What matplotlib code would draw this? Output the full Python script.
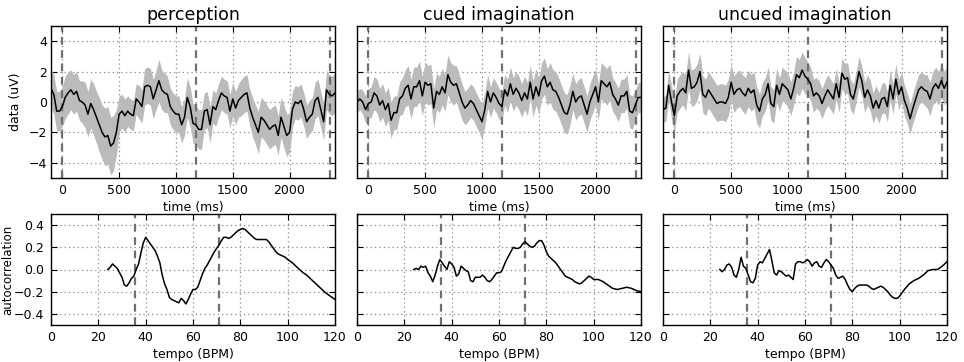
import numpy as np
import matplotlib
matplotlib.use("Agg")
import matplotlib.pyplot as plt

# ---------------- data ----------------
conditions = ["perception", "cued imagination", "uncued imagination"]
times = np.arange(-100, 2401, 25)  # ms

perception_mean = [
    0.9, 0.5, -0.6, -0.6, -0.3, 0.3, 0.6, 0.8, 0.5, 0.7,
    0.1, 0.0, -0.2, -0.8, -0.1, -0.5, -1.0, -1.5, -2.0, -2.3,
    -2.2, -2.9, -2.7, -2.0, -0.8, -0.6, -0.9, -0.6, -0.8, -0.9,
    0.2, 0.0, -0.3, 1.0, 1.1, 1.0, 0.2, 0.8, 1.4, 0.8,
    0.6, 0.5, -0.3, -0.6, -0.8, -0.8, -1.5, -1.0, 0.3, -0.3,
    -1.4, -1.5, -1.8, -1.8, -0.6, -0.5, -1.5, -0.3, -0.5, 0.1,
    0.6, 0.4, 0.3, -0.6, 0.2, -0.4, 0.1, 0.3, 0.5, 0.6,
    -0.4, -1.0, -1.5, -2.0, -1.0, -1.2, -1.5, -1.8, -1.6, -1.5,
    -2.2, -1.0, -1.6, -2.2, -2.0, -0.5, 0.0, -0.1, 0.1, -0.5,
    -1.3, -1.0, -0.8, 0.1, 0.3, -0.5, -1.3, 0.8, 0.5, 0.4,
    0.6]
perception_err = [
    1.3, 1.3, 1.3, 1.3, 1.3, 1.4, 1.4, 1.3, 1.3, 1.3,
    1.3, 1.4, 1.5, 1.5, 1.6, 1.7, 1.7, 1.8, 1.8, 1.9,
    1.9, 1.9, 1.8, 1.5, 1.2, 1.1, 1.1, 1.0, 1.0, 1.0,
    1.0, 1.1, 1.1, 1.2, 1.2, 1.2, 1.3, 1.3, 1.4, 1.3,
    1.3, 1.2, 1.2, 1.2, 1.2, 1.2, 1.2, 1.2, 1.3, 1.3,
    1.3, 1.3, 1.3, 1.3, 1.2, 1.2, 1.2, 1.1, 1.1, 1.1,
    1.1, 1.1, 1.1, 1.1, 1.1, 1.1, 1.1, 1.2, 1.2, 1.2,
    1.2, 1.3, 1.3, 1.4, 1.3, 1.3, 1.3, 1.3, 1.3, 1.3,
    1.3, 1.3, 1.4, 1.4, 1.3, 1.2, 1.1, 1.1, 1.1, 1.1,
    1.1, 1.1, 1.1, 1.2, 1.2, 1.2, 1.2, 1.3, 1.3, 1.3,
    1.3]

cued_mean = [
    0.0, 0.2, 0.0, -0.5, -0.1, 0.0, 0.6, 0.4, -0.2, 0.1,
    -0.5, -0.1, -1.2, -0.7, -0.7, 0.2, 0.4, 0.9, 1.1, 0.2,
    1.0, 1.0, 1.4, 0.4, 1.3, 1.1, 1.2, -0.4, 0.7, 0.5,
    1.0, 0.6, 1.8, 1.3, 1.1, 1.2, 0.6, 0.0, -0.4, -0.2,
    0.1, -0.1, -0.5, -0.9, -1.3, -0.5, 0.7, 0.0, 0.6, 0.3,
    -0.1, -0.3, 0.8, 0.4, 1.2, 0.5, 0.9, 0.6, 0.1, 0.6,
    0.2, 1.3, 0.2, 1.0, 0.4, 1.4, 1.7, 1.0, 1.3, 0.8,
    0.7, 0.3, -0.2, -0.7, -0.8, -0.2, 0.7, 0.0, 0.3, 0.4,
    -0.2, -0.8, 0.0, 0.5, 1.0, 0.0, 1.4, 1.2, 1.0, 1.3,
    0.5, 0.2, -0.2, 0.4, 0.4, 0.7, -0.6, -0.7, -0.2, 0.3,
    0.3]
cued_err = [
    0.7, 0.7, 0.8, 0.9, 1.0, 1.0, 1.1, 1.1, 1.1, 1.1,
    1.1, 1.1, 1.2, 1.1, 1.1, 1.1, 1.2, 1.2, 1.3, 1.3,
    1.3, 1.3, 1.3, 1.3, 1.3, 1.3, 1.3, 1.3, 1.2, 1.2,
    1.2, 1.2, 1.3, 1.3, 1.3, 1.2, 1.2, 1.2, 1.1, 1.1,
    1.1, 1.1, 1.1, 1.1, 1.2, 1.1, 1.1, 1.0, 1.0, 1.0,
    1.0, 1.0, 1.0, 1.1, 1.1, 1.1, 1.1, 1.1, 1.1, 1.1,
    1.1, 1.1, 1.2, 1.2, 1.2, 1.2, 1.2, 1.2, 1.3, 1.3,
    1.3, 1.3, 1.3, 1.3, 1.3, 1.3, 1.2, 1.2, 1.2, 1.2,
    1.2, 1.2, 1.2, 1.2, 1.2, 1.2, 1.2, 1.2, 1.2, 1.2,
    1.1, 1.1, 1.1, 1.1, 1.1, 1.1, 1.1, 1.1, 1.0, 1.0,
    1.0]

uncued_mean = [
    -0.5, -0.4, 1.1, 0.0, -0.9, 0.4, 0.7, 0.9, 0.6, 2.1,
    0.9, 1.0, 1.3, 2.0, 0.5, 0.3, 0.8, 0.5, 0.2, -0.1,
    0.0, 0.0, -0.1, 0.3, 1.3, 0.5, 0.8, 0.9, 0.6, 0.4,
    0.9, 0.6, 0.8, -0.2, -0.6, 0.2, 0.5, 1.2, -0.1, -0.3,
    1.1, 0.5, 1.2, 1.0, 0.8, 0.2, 0.9, 1.8, 1.6, 2.1,
    1.7, 1.5, 1.2, 0.4, 0.6, 0.4, -0.1, 0.4, 0.8, 0.5,
    0.2, 1.2, 0.3, 1.9, 1.5, 1.6, 0.5, 0.2, 1.0, 2.0,
    1.4, 0.3, 0.8, 0.4, -0.4, 0.1, -0.4, 0.2, 0.3, -0.3,
    1.1, 0.2, 1.5, 0.5, 1.0, 0.1, -0.4, -1.1, -0.4, 0.2,
    0.8, 1.0, 0.8, 0.7, 0.2, 0.9, 1.2, 0.9, 1.4, 0.9,
    1.3]
uncued_err = [
    0.8, 0.9, 1.0, 1.1, 1.1, 1.1, 1.1, 1.1, 1.2, 1.2,
    1.2, 1.2, 1.2, 1.2, 1.2, 1.2, 1.2, 1.2, 1.2, 1.2,
    1.2, 1.2, 1.2, 1.2, 1.2, 1.2, 1.2, 1.2, 1.2, 1.2,
    1.2, 1.2, 1.2, 1.2, 1.1, 1.1, 1.1, 1.1, 1.1, 1.1,
    1.1, 1.1, 1.1, 1.1, 1.1, 1.1, 1.1, 1.2, 1.2, 1.2,
    1.2, 1.1, 1.1, 1.1, 1.0, 1.0, 1.0, 1.0, 1.0, 1.0,
    1.0, 1.0, 1.0, 1.0, 1.0, 1.0, 1.0, 1.0, 1.0, 1.0,
    1.0, 1.0, 1.0, 1.0, 1.0, 1.0, 1.0, 1.0, 1.0, 1.0,
    1.0, 1.0, 1.0, 1.0, 1.0, 1.0, 1.0, 1.0, 1.0, 1.0,
    1.0, 1.0, 1.0, 1.1, 1.1, 1.1, 1.1, 1.1, 1.1, 1.1,
    1.1]

tempo = list(range(24, 101)) + list(range(102, 121, 2))  # BPM

perception_acf = [
    0.0, 0.02, 0.05, 0.03, 0.01, -0.03, -0.07, -0.14, -0.15, -0.12,
    -0.08, -0.06, 0.0, 0.05, 0.15, 0.24, 0.29, 0.26, 0.23, 0.2,
    0.17, 0.12, 0.06, -0.05, -0.13, -0.18, -0.25, -0.27, -0.28, -0.29,
    -0.3, -0.26, -0.28, -0.31, -0.27, -0.22, -0.18, -0.18, -0.16, -0.1,
    -0.04, 0.01, 0.04, 0.08, 0.12, 0.16, 0.19, 0.22, 0.26, 0.29,
    0.29, 0.28, 0.29, 0.31, 0.33, 0.35, 0.36, 0.37, 0.36, 0.34,
    0.32, 0.3, 0.28, 0.27, 0.27, 0.27, 0.27, 0.27, 0.25, 0.22,
    0.19, 0.16, 0.14, 0.13, 0.12, 0.11, 0.09,
    0.06, 0.02, -0.02, -0.05, -0.09, -0.13, -0.17, -0.21, -0.24, -0.27]
cued_acf = [
    0.0, 0.01, 0.0, 0.03, 0.02, 0.03, -0.03, -0.06, -0.11, -0.05,
    0.03, 0.09, 0.06, 0.03, 0.0, 0.07, 0.05, 0.02, -0.06, -0.04,
    0.03, 0.01, -0.01, -0.02, -0.1, -0.11, -0.07, -0.07, -0.07, -0.05,
    -0.07, -0.1, -0.11, -0.09, -0.06, -0.03, -0.03, -0.02, 0.03, 0.08,
    0.12, 0.16, 0.2, 0.19, 0.19, 0.2, 0.23, 0.25, 0.23, 0.21,
    0.2, 0.21, 0.24, 0.26, 0.26, 0.22, 0.16, 0.12, 0.1, 0.08,
    0.06, 0.03, 0.0, -0.03, -0.06, -0.07, -0.08, -0.09, -0.11, -0.12,
    -0.13, -0.12, -0.1, -0.08, -0.06, -0.07, -0.09,
    -0.09, -0.11, -0.14, -0.17, -0.18, -0.17, -0.16, -0.17, -0.19, -0.2]
uncued_acf = [
    0.0, -0.02, 0.0, 0.04, 0.05, 0.02, -0.05, -0.07, 0.0, 0.11,
    0.03, 0.01, -0.05, -0.11, -0.12, -0.08, 0.04, 0.07, 0.06, 0.1,
    0.14, 0.18, 0.08, -0.03, -0.05, -0.01, -0.02, -0.04, -0.06, -0.05,
    -0.07, -0.09, 0.05, 0.07, 0.07, 0.06, 0.07, 0.09, 0.07, 0.03,
    0.06, 0.07, 0.03, 0.02, 0.06, 0.09, 0.07, 0.04, 0.01, -0.05,
    -0.08, -0.07, -0.06, -0.09, -0.14, -0.18, -0.2, -0.17, -0.15, -0.14,
    -0.14, -0.14, -0.14, -0.15, -0.17, -0.18, -0.17, -0.16, -0.15, -0.16,
    -0.18, -0.2, -0.23, -0.25, -0.26, -0.26, -0.24,
    -0.18, -0.13, -0.1, -0.08, -0.05, -0.01, 0.0, 0.0, 0.03, 0.07]

beat_times = [0, 1180, 2360]      # ms
beat_tempi = [35.5, 71.0]         # BPM

means = [perception_mean, cued_mean, uncued_mean]
errs = [perception_err, cued_err, uncued_err]
acfs = [perception_acf, cued_acf, uncued_acf]

# ---------------- figure ----------------
plt.rcParams['font.family'] = ['DejaVu Sans']
fig = plt.figure(figsize=(9.64, 3.62), dpi=100)

lefts = [51 / 964, 357 / 964, 663 / 964]
w = 284 / 964
top_b, top_h = 1 - 178 / 362, 152 / 362
bot_b, bot_h = 1 - 325 / 362, 111 / 362

band_color = '#bbbbbb'
dash_color = '#707070'
grid_kw = dict(color='#888888', linestyle=(0, (1, 2.5)), linewidth=0.9)


def style_axes(ax, ypad=4):
    ax.tick_params(direction='in', top=True, right=True, labelsize=9,
                   length=4, width=0.8, pad=4)
    ax.tick_params(axis='y', pad=ypad)
    for s in ax.spines.values():
        s.set_linewidth(1.0)
    ax.grid(True, **grid_kw)
    ax.set_axisbelow(True)


for i in range(3):
    ax = fig.add_axes([lefts[i], top_b, w, top_h])
    m = np.array(means[i])
    e = np.array(errs[i])
    ax.fill_between(times, m - e, m + e, color=band_color, linewidth=0, zorder=1)
    ax.plot(times, m, color='black', linewidth=1.1, zorder=3)
    for bt in beat_times:
        ax.axvline(bt, color=dash_color, linewidth=1.6,
                   linestyle=(0, (3.5, 2.5)), zorder=2)
    ax.set_xlim(-100, 2400)
    ax.set_ylim(-5, 5)
    ax.set_xticks([0, 500, 1000, 1500, 2000])
    ax.set_yticks([-4, -2, 0, 2, 4])
    style_axes(ax, ypad=3)
    ax.set_xlabel('time (ms)', fontsize=9, labelpad=3)
    ax.set_title(conditions[i], fontsize=12.5, pad=4)
    if i == 0:
        ax.set_ylabel('data (uV)', fontsize=9, labelpad=5)
        ax.set_yticklabels(['\u22124', '\u22122', '0', '2', '4'])
    else:
        ax.set_yticklabels([])

    bx = fig.add_axes([lefts[i], bot_b, w, bot_h])
    bx.plot(tempo, acfs[i], color='black', linewidth=1.1, zorder=3)
    for bpm in beat_tempi:
        bx.axvline(bpm, color=dash_color, linewidth=1.6,
                   linestyle=(0, (3.5, 2.5)), zorder=2)
    bx.set_xlim(0, 120)
    bx.set_ylim(-0.5, 0.5)
    bx.set_xticks([0, 20, 40, 60, 80, 100, 120])
    bx.set_yticks([-0.4, -0.2, 0.0, 0.2, 0.4])
    style_axes(bx, ypad=5)
    bx.set_xlabel('tempo (BPM)', fontsize=9, labelpad=3)
    if i == 0:
        bx.set_ylabel('autocorrelation', fontsize=8.5)
        bx.yaxis.set_label_coords((14 - 51) / 284, 0.5)
        bx.set_yticklabels(['\u22120.4', '\u22120.2', '0.0', '0.2', '0.4'])
    else:
        bx.set_yticklabels([])

fig.savefig('out.png', dpi=100)
